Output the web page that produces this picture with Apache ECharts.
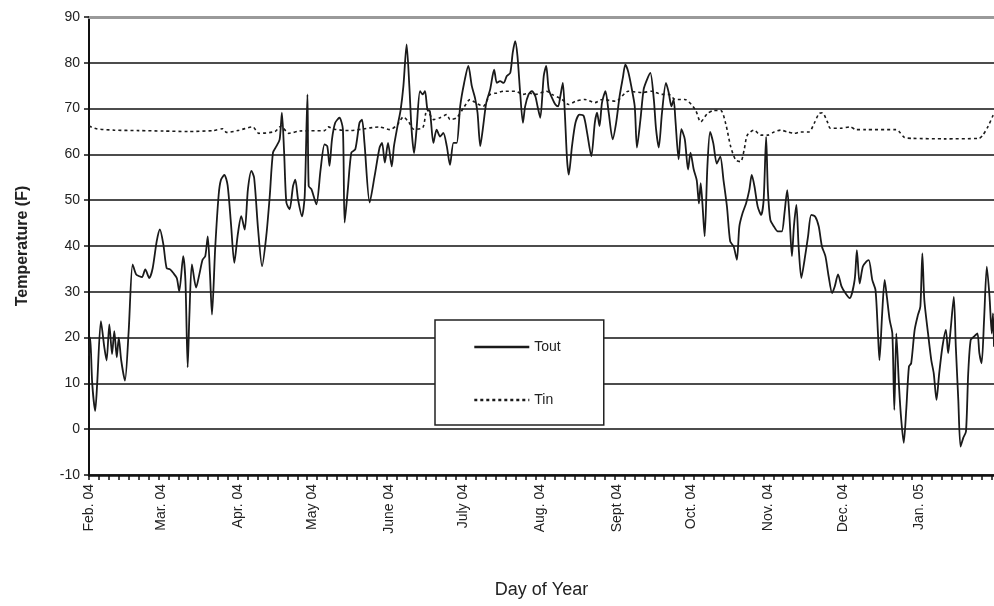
<!DOCTYPE html>
<html>
<head>
<meta charset="utf-8">
<script src="https://cdn.jsdelivr.net/npm/echarts@6/dist/echarts.min.js"></script>
<style>
  html, body { margin: 0; padding: 0; background: #fff; }
  #chart { width: 994px; height: 606px; }
</style>
</head>
<body>
<div id="chart"></div>
<script>
// days counted from Feb. 1, 2004
var monthStarts = [0, 29, 60, 90, 121, 151, 182, 213, 243, 274, 304, 335];
var monthLabels = ['Feb. 04', 'Mar. 04', 'Apr. 04', 'May 04', 'June 04', 'July 04',
  'Aug. 04', 'Sept 04', 'Oct. 04', 'Nov. 04', 'Dec. 04', 'Jan. 05'];

var toutDays = [0, 0.5, 1.3, 2.5, 3.3, 4.8, 6.2, 7.1, 8.2, 9.3, 10.2, 11.2, 12, 13, 14.5, 16, 17.6, 19, 20.3, 21.4,
  22.7, 24.3, 25.7, 27.3, 28.6, 30, 31.3, 32.7, 34, 35.4, 36.4, 38, 38.9, 39.8, 40.5, 41.5, 43.2, 44.5, 45.8, 46.9,
  47.9, 48.8, 49.6, 50.9, 52.3, 53.2, 54.6, 55.9, 57.3, 58.6, 60, 61.4, 62.8, 64.1, 65.5, 66.6, 68.2, 69.8, 71.5, 72.9,
  74.2, 75.6, 76.9, 77.8, 78.7, 79.6, 80.9, 82.3, 83.2, 84.3, 85.9, 87, 88.1, 88.6, 89.7, 91.7, 93.4, 95, 96.1, 97,
  98, 99.3, 101, 102.4, 103.1, 104.4, 105.8, 107.4, 109.1, 110.1, 111.1, 113.2, 115.2, 117.2, 118.2, 119.3, 120.6, 122.1, 123, 124.4,
  125.7, 126.8, 128.1, 129.2, 130.1, 131.1, 132.1, 133.5, 134.6, 135.5, 136.5, 137.5, 138.9, 140.2, 141.6, 142.9, 144.3, 145.6, 147, 148.3,
  149.7, 151.3, 153, 154.4, 155.7, 156.7, 157.8, 158.8, 160.2, 161.8, 163.4, 164.5, 165.8, 167.2, 168.5, 169.9, 170.9, 171.9, 172.8, 173.9,
  175, 175.9, 177.3, 178.6, 180, 180.9, 182, 183.4, 184.4, 185.4, 186.7, 188.1, 189.2, 190.1, 191.1, 191.9, 192.8, 193.5, 194.8, 196.2,
  197.8, 199.5, 200.9, 202.6, 204, 204.9, 205.9, 206.9, 208.3, 209.6, 211.2, 212.6, 214, 215.3, 216.3, 217.4, 218.7, 220.1, 221, 222.4,
  223.7, 225.1, 226.4, 227.8, 228.7, 229.8, 231.1, 232.7, 233.8, 234.9, 235.8, 236.5, 237.8, 238.9, 240.3, 241.6, 242.6, 243.9, 245.1, 246,
  246.7, 247.4, 248.3, 249.4, 250.5, 251.8, 253.2, 254.6, 255.9, 257.3, 258.6, 260, 261.3, 262.3, 263.6, 265, 266.3, 267.3, 268.4, 269.7,
  271.1, 272.1, 273.1, 273.8, 274.8, 276.2, 277.8, 279.4, 280.5, 281.6, 282.5, 283.5, 284.3, 285.3, 286.2, 287.3, 288.6, 290, 291.3, 292.9,
  294.3, 295.6, 297, 298.3, 299.7, 300.8, 302.1, 303.5, 305.1, 306.8, 308.8, 309.7, 310.8, 312.1, 313.5, 314.5, 315.9, 317.2, 318.2, 318.8,
  319.9, 320.9, 321.8, 322.9, 324, 324.8, 325.6, 326.7, 327.6, 328.6, 329.6, 330.7, 331.6, 333, 334.3, 335.3, 336.1, 336.9, 338.4, 339.7,
  340.7, 341.8, 342.9, 344.2, 345.6, 346.5, 347.5, 348.8, 349.6, 350.6, 351.5, 352.6, 353.7, 354.6, 355.6, 356.9, 358.3, 359.1, 360, 361,
  362.1, 363.2, 364.1, 364.6, 365];
var toutTemps = [16, 20, 10, 4, 10, 23.6, 17.8, 15, 22.9, 16.4, 21.4, 15.7, 20, 15, 10.6, 21.4, 36, 33.8, 33.4, 33.2,
  34.9, 33, 35.2, 41, 43.6, 40.3, 35.2, 34.9, 34.1, 33, 30.1, 37.8, 32.3, 13.5, 25, 36, 30.9, 33.8, 37, 37.8,
  42.1, 33.8, 25, 39.6, 51.2, 54.4, 55.5, 53.3, 44.6, 36.3, 42.5, 46.5, 43.6, 52.4, 56.4, 54.9, 43.6, 35.6, 42.2, 50.9,
  60.4, 61.8, 63.3, 69.1, 60.4, 49.5, 48, 53.1, 54.5, 50.2, 46.5, 50.9, 73.1, 53.1, 52.4, 49.1, 56.7, 62.2, 61.8, 57.5,
  63.3, 66.9, 68, 65.5, 45.1, 52.4, 60.4, 61.1, 66.9, 67.6, 62.5, 49.5, 55.3, 61.5, 62.5, 58.2, 62.5, 57.4, 61.8, 66.1,
  69.8, 74.9, 84, 74.9, 65.4, 60.3, 65.4, 73.8, 73.1, 73.8, 69.8, 69.4, 62.5, 65.4, 63.9, 64.7, 61.8, 57.7, 62.5, 62.5,
  70.5, 75.6, 79.3, 74.9, 72.3, 69.1, 61.8, 65.4, 71.2, 74.2, 78.5, 75.6, 76, 75.6, 77.1, 77.8, 82.2, 84.7, 81.5, 73.4,
  66.9, 70.5, 73.1, 73.8, 72.7, 70.5, 68, 77.1, 79.3, 74.2, 72.4, 70.9, 70.5, 72.7, 75.6, 69.1, 58.9, 55.6, 61.8, 66.9,
  68.7, 68.4, 64.7, 59.6, 66.9, 69.1, 66.2, 71.3, 73.8, 69.1, 63.3, 66.9, 72.7, 76.7, 79.6, 78.2, 74.9, 70.5, 61.5, 67.6,
  74.2, 76.4, 77.8, 72, 65.5, 61.5, 69.1, 75.6, 73.5, 70.5, 72, 67.6, 58.9, 65.5, 63.3, 56.7, 60.4, 56.7, 54.4, 49.3,
  53.7, 49.3, 42.1, 57.3, 64.9, 62.4, 58, 59.5, 54.4, 48.6, 41, 39.9, 37, 44.3, 47.2, 49.3, 52.2, 55.5, 53, 48.6,
  46.8, 50.1, 63.8, 52.2, 45.7, 44.3, 43.2, 43.2, 47.2, 52.2, 46.4, 37.8, 44.3, 49, 39.9, 33, 37, 42.1, 46.8, 46.4,
  44.3, 39.9, 37.8, 33.4, 29.7, 31.2, 33.8, 31.2, 29.7, 28.6, 32.6, 39.1, 31.8, 35.5, 36.6, 36.9, 32.6, 30.4, 20.9, 15.1,
  25.3, 32.6, 28.9, 23.9, 20.9, 4.2, 20.9, 9.3, 2, -3, 4.2, 13.7, 14.4, 21.7, 24.9, 26.8, 38.4, 28.2, 20.9, 15.1,
  12.2, 6.4, 12.2, 18, 21.7, 16.6, 21.7, 28.9, 18, 6.4, -3.8, -1.9, -0.5, 12.2, 19.5, 20.2, 20.9, 16.6, 14.4, 23.9,
  35.5, 28.9, 20.9, 25.3, 18];

var tinDays = [0, 3, 10, 20, 30, 40, 50, 54, 55.5, 60, 66, 68.5, 75, 77.5, 80.5, 85, 95, 96.5, 99, 105,
  110, 117, 121.4, 124.4, 126.8, 129, 131, 134.6, 136.3, 139, 141.6, 144.3, 145.6, 148.3, 151, 153.7, 155, 159, 161.8, 164.5,
  167.2, 172, 175, 177.5, 180, 184.5, 186.7, 190.8, 193.5, 196.2, 200, 204, 207, 212.5, 217.5, 223, 227, 231, 233.8, 236.5,
  240.3, 244.5, 246.7, 249.4, 252, 254.8, 256.8, 258.8, 260.8, 262.8, 264.2, 265.5, 268.2, 270.9, 273.6, 276.3, 279, 281.7, 284.4, 287,
  290.4, 292.4, 294.4, 295.8, 297.8, 299, 303.2, 307, 309.4, 313, 325.6, 326.9, 328.9, 332, 345, 359, 360.5, 362.5, 364.6, 365];
var tinTemps = [66.2, 65.6, 65.3, 65.2, 65.1, 65, 65.2, 65.6, 64.8, 65.2, 66, 64.6, 65, 66.2, 64.6, 65.1, 65.2, 66, 65.5, 65.2,
  65.5, 66, 65.4, 66.5, 68.2, 67, 65.5, 65.8, 69.8, 67.6, 68, 68.7, 67.6, 68, 70.1, 72, 71.6, 70.5, 73.1, 73.4,
  73.8, 73.8, 73.1, 73.4, 73.1, 73.8, 73.1, 72, 70.9, 71.6, 72, 71.3, 72, 71.6, 73.8, 73.5, 73.8, 73.1, 73.1, 72,
  72, 69.8, 67.1, 68.9, 69.6, 69.6, 66.7, 61.7, 58.8, 58.4, 60.9, 64.2, 65.3, 64.2, 64.2, 64.9, 65.3, 64.9, 64.6, 64.9,
  64.9, 66.7, 68.9, 69.1, 67.1, 65.7, 65.7, 66, 65.4, 65.4, 65.4, 64.9, 63.7, 63.5, 63.4, 63.5, 64.2, 66, 68.5, 69];

var yMin = -10, yMax = 90, yStep = 10;

function pairs(xs, ys) {
  return xs.map(function (x, i) { return [x, ys[i]]; });
}

var tickDays = [];
for (var d = 0; d <= 365; d += 4) tickDays.push(d);

var chart = echarts.init(document.getElementById('chart'), null, { renderer: 'canvas' });
var font = '"Liberation Sans", Arial, sans-serif';

var option = {
  backgroundColor: '#fff',
  animation: false,
  grid: { left: 89, right: 0, top: 17, bottom: 131, containLabel: false },
  legend: {
    left: 435,
    top: 320,
    orient: 'vertical',
    backgroundColor: '#fff',
    borderColor: '#222',
    borderWidth: 1.5,
    borderRadius: 0,
    padding: [20, 43, 18, 38],
    itemGap: 39,
    itemWidth: 55,
    itemHeight: 14,
    itemStyle: { opacity: 0 },
    lineStyle: { width: 2.6 },
    textStyle: { fontFamily: font, fontSize: 14, color: '#222' },
    data: ['Tout', 'Tin']
  },
  xAxis: [{
    type: 'value',
    min: 0,
    max: 365,
    name: 'Day of Year',
    nameLocation: 'middle',
    nameGap: 106,
    nameTextStyle: { fontFamily: font, fontSize: 18, color: '#222' },
    axisLine: { show: true, onZero: false, lineStyle: { color: '#111', width: 2.5 } },
    axisTick: { show: true, customValues: tickDays, length: 5, lineStyle: { color: '#111', width: 1.5 } },
    axisLabel: {
      customValues: monthStarts,
      rotate: 90,
      margin: 9,
      fontFamily: font,
      fontSize: 14,
      color: '#222',
      formatter: function (v) {
        var i = monthStarts.indexOf(Math.round(v));
        return i >= 0 ? monthLabels[i] : '';
      }
    },
    splitLine: { show: false }
  }, {
    type: 'value',
    min: 0,
    max: 365,
    position: 'top',
    axisLine: { show: true, onZero: false, lineStyle: { color: '#9a9a9a', width: 3 } },
    axisTick: { show: false },
    axisLabel: { show: false },
    splitLine: { show: false }
  }],
  yAxis: {
    type: 'value',
    min: yMin,
    max: yMax,
    interval: yStep,
    name: 'Temperature (F)',
    nameLocation: 'middle',
    nameGap: 58,
    nameTextStyle: { fontFamily: font, fontSize: 16, fontWeight: 'bold', color: '#222' },
    axisLine: { show: true, lineStyle: { color: '#111', width: 2 } },
    axisTick: { show: true, length: 5, lineStyle: { color: '#111', width: 1.5 } },
    axisLabel: { margin: 9, fontFamily: font, fontSize: 14, color: '#222' },
    splitLine: { show: true, lineStyle: { color: '#111', width: 1.5 } }
  },
  series: [{
    name: 'Tout',
    type: 'line',
    symbol: 'none',
    smooth: 0.25,
    data: pairs(toutDays, toutTemps),
    lineStyle: { color: '#1a1a1a', width: 1.8 },
    itemStyle: { color: '#1a1a1a' },
    z: 3
  }, {
    name: 'Tin',
    type: 'line',
    symbol: 'none',
    smooth: 0.25,
    data: pairs(tinDays, tinTemps),
    lineStyle: { color: '#1a1a1a', width: 1.6, type: [3, 3] },
    itemStyle: { color: '#1a1a1a' },
    z: 2
  }]
};

chart.setOption(option);
</script>
</body>
</html>
